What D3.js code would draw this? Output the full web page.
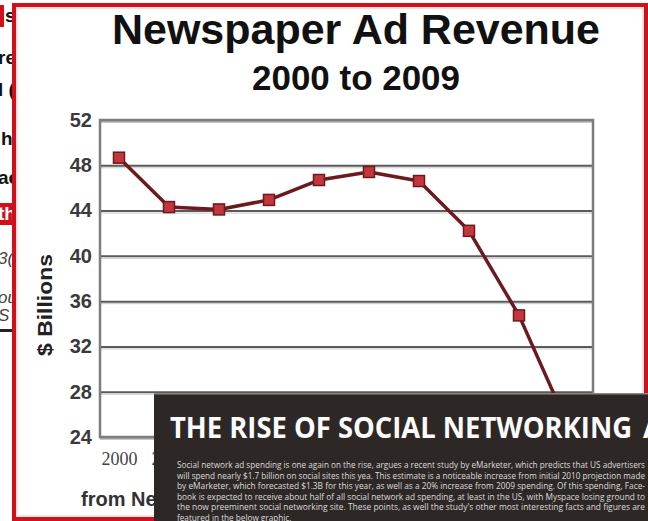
<!DOCTYPE html>
<html>
<head>
<meta charset="utf-8">
<script src="https://cdn.jsdelivr.net/npm/d3@7"></script>
<style>
html,body{margin:0;padding:0;background:#fff;}
svg{display:block;}
</style>
</head>
<body>
<svg id="c" width="648" height="521"></svg>
<script>
// ---- data ----
const years = [2000, 2001, 2002, 2003, 2004, 2005, 2006, 2007, 2008, 2009];
const revenue = [48.67, 44.31, 44.10, 44.94, 46.70, 47.41, 46.61, 42.21, 34.74, 24.82];
const yTicks = [24, 28, 32, 36, 40, 44, 48, 52];
const titleText = "Newspaper Ad Revenue";
const subtitleText = "2000 to 2009";
const yLabel = "$ Billions";
const sourceText = "from Newspaper Association of America";
const overlayTitle = "THE RISE OF SOCIAL NETWORKING";
const overlayTitleRest = "AD SPENDING";
const overlayBody = [
  "Social network ad spending is one again on the rise, argues a recent study by eMarketer, which predicts that US advertisers",
  "will spend nearly $1.7 billion on social sites this yea.  This estimate is a noticeable increase from initial 2010 projection made",
  "by eMarketer, which forecasted $1.3B for this year, as well as a 20% increase from 2009 spending. Of this spending, Face-",
  "book is expected to receive about half of all social network ad spending, at least in the US, with Myspace losing ground to",
  "the now preeminent social networking site. These points, as well the study's other most interesting facts and figures are",
  "featured in the below graphic."
];
const sideFragments = [
  {t:"s", y:22}, {t:"re", y:64}, {t:"l (", y:96}, {t:"h", y:145}, {t:"ac", y:184},
  {t:"th", y:220, box:true}, {t:"3(", y:264, it:true}, {t:"ou", y:303, it:true}, {t:"S", y:321, it:true}
];

const svg = d3.select("#c");
const sans = "'Liberation Sans', Arial, Helvetica, sans-serif";

// ---- left strip (cut-off neighbouring page) ----
svg.append("clipPath").attr("id","side").append("rect").attr("x",0).attr("y",0).attr("width",12).attr("height",521);
const side = svg.append("g").attr("clip-path","url(#side)");
side.append("rect").attr("x",0).attr("y",5).attr("width",4).attr("height",22).attr("fill","#d0101a");
side.append("rect").attr("x",0).attr("y",203).attr("width",12).attr("height",22).attr("fill","#d0101a");
side.append("rect").attr("x",0).attr("y",329).attr("width",12).attr("height",3).attr("fill","#222");
side.selectAll("text.frag").data(sideFragments).join("text")
  .attr("class","frag")
  .attr("x", d => d.t === "s" ? 5 : (d.t === "h" ? 1 : -2))
  .attr("y", d => d.y)
  .attr("font-family", sans)
  .attr("font-weight", d => d.it ? "normal" : "bold")
  .attr("font-style", d => d.it ? "italic" : "normal")
  .attr("font-size", d => d.it ? 17 : 19)
  .attr("fill", d => d.box ? "#fff" : (d.it ? "#444" : "#111"))
  .text(d => d.t);

// ---- chart frame ----
svg.append("rect").attr("x",14).attr("y",5).attr("width",632).attr("height",514)
  .attr("fill","#fff").attr("stroke","#d0101a").attr("stroke-width",4);
svg.append("rect").attr("x",17).attr("y",8).attr("width",626).attr("height",508)
  .attr("fill","none").attr("stroke","#f6d6d6").attr("stroke-width",1.5);

// titles
svg.append("text").attr("x",356).attr("y",44).attr("text-anchor","middle")
  .attr("font-family",sans).attr("font-weight","bold").attr("font-size",42)
  .attr("textLength",488).attr("lengthAdjust","spacingAndGlyphs")
  .attr("fill","#111").text(titleText);
svg.append("text").attr("x",356).attr("y",90).attr("text-anchor","middle")
  .attr("font-family",sans).attr("font-weight","bold").attr("font-size",35)
  .attr("textLength",208).attr("lengthAdjust","spacingAndGlyphs")
  .attr("fill","#111").text(subtitleText);

// ---- scales ----
const plotL = 100, plotR = 593, plotT = 120, plotB = 437;
const x = d3.scaleLinear().domain([2000, 2009]).range([119, 569]);
const y = d3.scaleLinear().domain([24, 52]).range([plotB, plotT]);

// gridlines + y labels
const yAxis = svg.append("g").attr("transform",`translate(${plotL},0)`)
  .call(d3.axisLeft(y).tickValues(yTicks).tickSize(-(plotR-plotL)).tickPadding(8).tickFormat(d3.format("d")));
yAxis.select(".domain").remove();
yAxis.selectAll(".tick line").attr("stroke","#5a5a5a").attr("stroke-width",2);
yAxis.selectAll(".tick").append("line").attr("x1",0).attr("x2",plotR-plotL).attr("y1",2).attr("y2",2)
  .attr("stroke","#c8c8c8").attr("stroke-width",1);
yAxis.selectAll(".tick text").attr("font-family",sans).attr("font-weight","bold")
  .attr("font-size",20).attr("fill","#3a3a3a");

// plot border
svg.append("rect").attr("x",plotL).attr("y",plotT).attr("width",plotR-plotL).attr("height",plotB-plotT)
  .attr("fill","none").attr("stroke","#7d7d7d").attr("stroke-width",2.5);

// bottom texts are partly hidden by the overlay panel: clip them at its left edge
svg.append("clipPath").attr("id","under").append("rect").attr("x",0).attr("y",380).attr("width",154).attr("height",141);
const under = svg.append("g").attr("clip-path","url(#under)");

// x axis labels
const xAxis = under.append("g").attr("transform",`translate(0,${plotB})`)
  .call(d3.axisBottom(x).tickValues(years).tickSize(0).tickPadding(15).tickFormat(d3.format("d")));
xAxis.select(".domain").remove();
xAxis.selectAll(".tick text").attr("font-family","'Liberation Serif', 'Times New Roman', serif")
  .attr("font-size",18).attr("fill","#444");

// source
under.append("text").attr("x",81).attr("y",506).attr("font-family",sans).attr("font-weight","bold")
  .attr("font-size",20).attr("fill","#333").text(sourceText);

// y label
svg.append("text").attr("transform","translate(52,305) rotate(-90)").attr("text-anchor","middle")
  .attr("font-family",sans).attr("font-weight","bold").attr("font-size",20)
  .attr("textLength",102).attr("lengthAdjust","spacingAndGlyphs")
  .attr("fill","#222").text(yLabel);

// ---- line + markers ----
const pts = years.map((yr,i)=>({yr, v: revenue[i]}));
svg.append("path").datum(pts)
  .attr("d", d3.line().x(d=>x(d.yr)).y(d=>y(d.v)))
  .attr("fill","none").attr("stroke","#6b1a1e").attr("stroke-width",3.5).attr("stroke-linejoin","round");
svg.selectAll("rect.mk").data(pts).join("rect").attr("class","mk")
  .attr("x", d=>x(d.yr)-5.5).attr("y", d=>y(d.v)-5.5).attr("width",11).attr("height",11)
  .attr("fill","#c4363c").attr("stroke","#6b1a1e").attr("stroke-width",1.5);

// ---- overlay panel ----
const ov = svg.append("g");
ov.append("rect").attr("x",154).attr("y",393).attr("width",494).attr("height",128).attr("fill","#2d2826");
ov.append("rect").attr("x",154).attr("y",393).attr("width",494).attr("height",1.5).attr("fill","#8a8684");
const ot = ov.append("text").attr("y",438).attr("font-family","'Open Sans', 'DejaVu Sans', sans-serif")
  .attr("font-weight","bold").attr("font-size",28).attr("fill","#fbfbfb");
ot.append("tspan").attr("x",170).attr("textLength",462).attr("lengthAdjust","spacingAndGlyphs").text(overlayTitle);
ot.append("tspan").attr("x",643).text(overlayTitleRest);
ov.selectAll("text.body").data(overlayBody).join("text").attr("class","body")
  .attr("x",177).attr("y",(d,i)=>468 + i*10.6)
  .attr("font-family","'Open Sans', 'DejaVu Sans', sans-serif").attr("font-size",8.2)
  .attr("fill","#dcdcdc")
  .attr("textLength",(d,i)=> i===5 ? null : 468)
  .attr("lengthAdjust","spacingAndGlyphs")
  .text(d=>d);
</script>
</body>
</html>
